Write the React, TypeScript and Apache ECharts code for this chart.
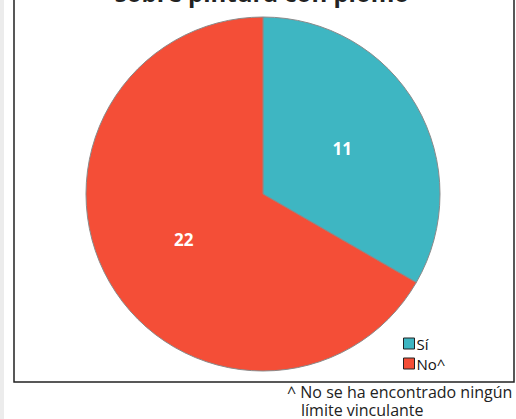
import React, { useEffect, useRef } from "react";
import * as echarts from "echarts";

const categories = ["Sí", "No^"];
const values = [11, 22];
const colors = ["#3EB6C2", "#F44E37"];
const titleText = "sobre pintura con plomo";
const footnoteLines = ["^ No se ha encontrado ningún", "límite vinculante"];

export default function App() {
  const ref = useRef<HTMLDivElement>(null);
  useEffect(() => {
    const chart = echarts.init(ref.current!, null, { renderer: "svg" });
    const font = "Open Sans";
    chart.setOption({
      animation: false,
      backgroundColor: "#ffffff",
      legend: {
        orient: "vertical",
        left: 398,
        top: 331,
        itemWidth: 11,
        itemHeight: 11,
        itemGap: 5,
        icon: "rect",
        data: categories,
        textStyle: { fontFamily: font, fontSize: 15, color: "#111", padding: [0, 0, 0, -3] },
        itemStyle: { borderColor: "#222", borderWidth: 1 },
      },
      graphic: [
        { type: "rect", shape: { x: 0, y: 0, width: 4, height: 419 }, style: { fill: "#ececec" }, silent: true },
        {
          type: "rect",
          shape: { x: 14, y: -10, width: 500, height: 392 },
          style: { fill: "none", stroke: "#222", lineWidth: 1.5 },
          silent: true,
          z: 10,
        },
        {
          type: "text",
          x: 262,
          y: 4,
          style: {
            text: titleText,
            font: "bold 24px 'Open Sans'",
            fill: "#222",
            textAlign: "center",
            textVerticalAlign: "bottom",
          },
        },
        {
          type: "text",
          x: 287,
          y: 383,
          style: {
            text: "{a|" + footnoteLines[0] + "}\n{b|" + footnoteLines[1] + "}",
            fill: "#222",
            textVerticalAlign: "top",
            rich: {
              a: { fontFamily: font, fontSize: 16, lineHeight: 18, fill: "#222" },
              b: { fontFamily: font, fontSize: 16, lineHeight: 18, fill: "#222", padding: [0, 0, 0, 14] },
            },
          },
        },
      ],
      series: [
        {
          type: "pie",
          center: [263, 194],
          radius: [0, 177],
          startAngle: 90,
          clockwise: true,
          label: {
            show: true,
            position: "inside",
            formatter: "{c}",
            color: "#fff",
            fontWeight: "bold",
            fontSize: 17,
            fontFamily: font,
          },
          labelLine: { show: false },
          itemStyle: { borderColor: "#8a8a8a", borderWidth: 1 },
          emphasis: { disabled: true },
          data: categories.map((c, i) => ({ name: c, value: values[i], itemStyle: { color: colors[i] } })),
        },
      ],
    });
    return () => chart.dispose();
  }, []);
  return <div ref={ref} style={{ position: "fixed", left: 0, top: 0, width: 516, height: 419 }} />;
}
